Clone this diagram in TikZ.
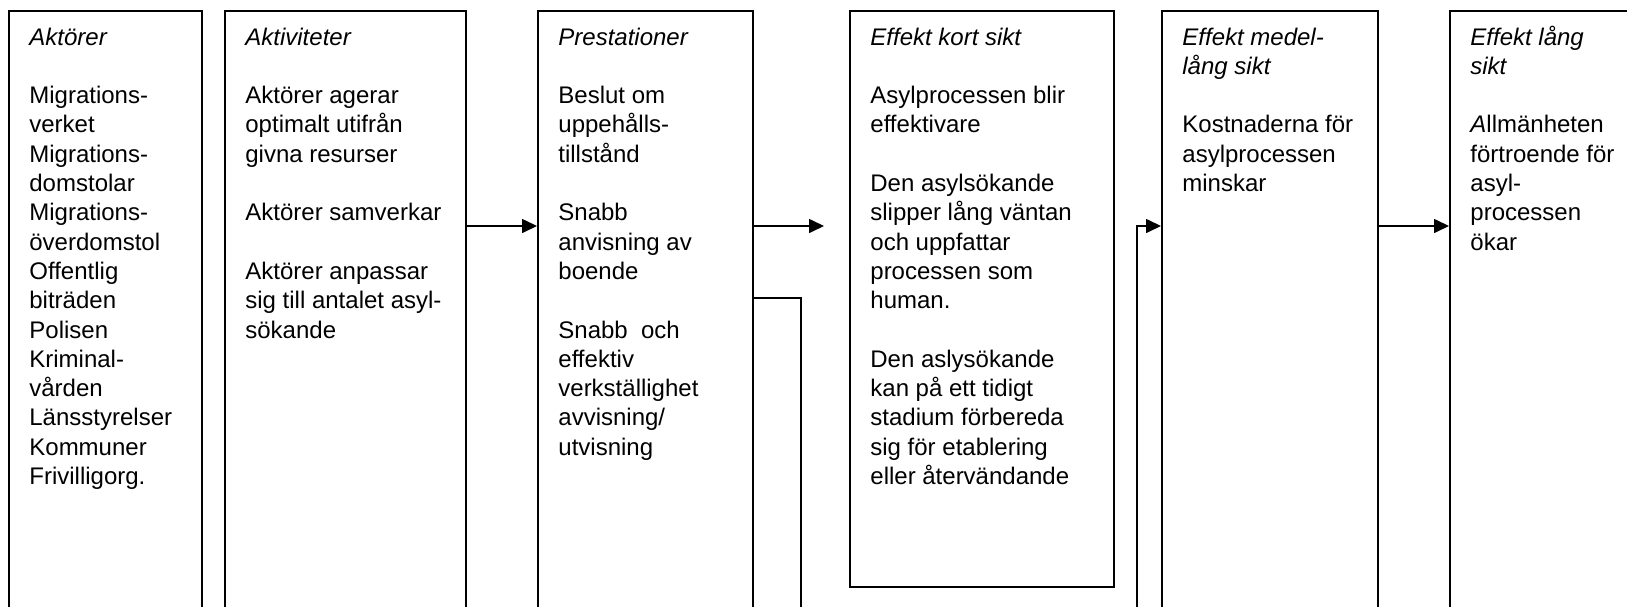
\documentclass[tikz,border=0pt]{standalone}
\usepackage{fontspec}
\setmainfont{Liberation Sans}
\usetikzlibrary{arrows.meta,calc}
\tikzset{
  box/.style={draw=black, line width=0.8pt, inner sep=0pt, anchor=north west},
  txt/.style={inner sep=0pt, anchor=base west, font=\fontsize{12}{14.65}\selectfont},
  arr/.style={draw=black, line width=0.8pt, -{Triangle[length=7.5pt,width=7pt]}},
  conn/.style={draw=black, line width=0.8pt}
}
\newcommand{\colbox}[1]{\parbox[t]{150pt}{\raggedright #1}}
\newcommand{\gap}{\\[14.65pt]}
\begin{document}
\begin{tikzpicture}[x=0.5pt,y=-0.5pt]
\useasboundingbox (0,0) rectangle (1627,606);
\clip (0,0) rectangle (1627,606);
% boxes
\node[box, minimum width=96.5pt, minimum height=345pt] (b1) at (8,10) {};
\node[box, minimum width=120.5pt, minimum height=345pt] (b2) at (224,10) {};
\node[box, minimum width=107.5pt, minimum height=345pt] (b3) at (537,10) {};
\node[box, minimum width=132pt, minimum height=288pt] (b4) at (849,10) {};
\node[box, minimum width=108pt, minimum height=345pt] (b5) at (1161,10) {};
\node[box, minimum width=150.5pt, minimum height=345pt] (b6) at (1449,10) {};
% texts
\node[txt] (t1) at (29,45) {\colbox{\textit{Aktörer}\gap Migrations-\\verket\\Migrations-\\domstolar\\Migrations-\\överdomstol\\Offentlig\\biträden\\Polisen\\Kriminal-\\vården\\Länsstyrelser\\Kommuner\\Frivilligorg.}};
\node[txt] (t2) at (245,45) {\colbox{\textit{Aktiviteter}\gap Aktörer agerar\\optimalt utifrån\\givna resurser\gap Aktörer samverkar\gap Aktörer anpassar\\sig till antalet asyl-\\sökande}};
\node[txt] (t3) at (558,45) {\colbox{\textit{Prestationer}\gap Beslut om\\uppehålls-\\tillstånd\gap Snabb\\anvisning av\\boende\gap Snabb\ \ och\\effektiv\\verkställighet\\avvisning/\\utvisning}};
\node[txt] (t4) at (870,45) {\colbox{\textit{Effekt kort sikt}\gap Asylprocessen blir\\effektivare\gap Den asylsökande\\slipper lång väntan\\och uppfattar\\processen som\\human.\gap Den aslysökande\\kan på ett tidigt\\stadium förbereda\\sig för etablering\\eller återvändande}};
\node[txt] (t5) at (1182,45) {\colbox{\textit{Effekt medel-}\\\textit{lång sikt}\gap Kostnaderna för\\asylprocessen\\minskar}};
\node[txt] (t6) at (1470,45) {\colbox{\textit{Effekt lång}\\\textit{sikt}\gap \textit{A}llmänheten\\förtroende för\\asyl-\\processen\\ökar}};
% connectors
\coordinate (ya) at (0,226);
\coordinate (yb) at (0,298);
\coordinate (free) at (824,226);
\coordinate (c1) at (801,298);
\coordinate (c2) at (801,700);
\coordinate (c3) at (1137,700);
\coordinate (c4) at (1137,226);
\draw[arr] (b2.east |- ya) -- (b3.west |- ya);
\draw[arr] (b3.east |- ya) -- (free);
\draw[arr] (b5.east |- ya) -- (b6.west |- ya);
\draw[arr] (b3.east |- yb) -- (c1) -- (c2) -- (c3) -- (c4) -- (b5.west |- ya);
\end{tikzpicture}
\end{document}
